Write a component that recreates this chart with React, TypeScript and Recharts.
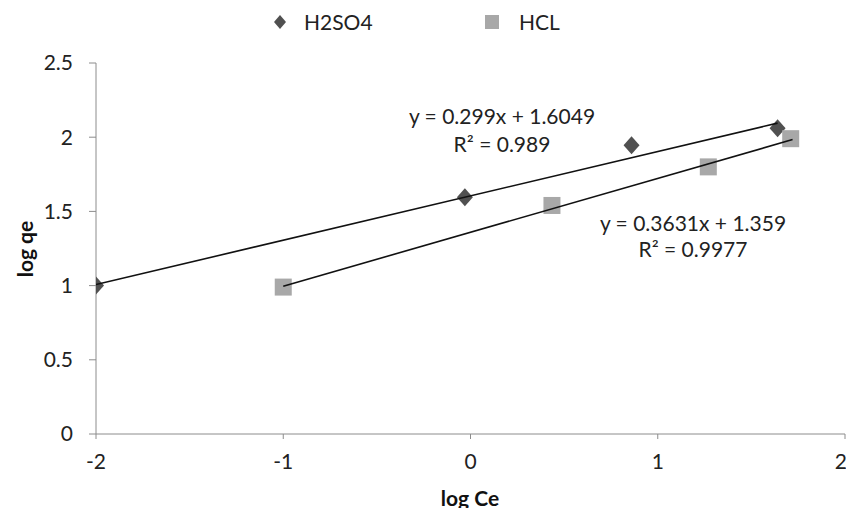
import React from 'react';
import { ScatterChart, Scatter, XAxis, YAxis, Legend } from 'recharts';

// Measured data (log Ce, log qe)
const h2so4X = [-2, -0.03, 0.86, 1.64];
const h2so4Y = [1.0, 1.595, 1.945, 2.06];
const hclX = [-1, 0.435, 1.27, 1.71];
const hclY = [0.99, 1.54, 1.8, 1.99];

// Trend line endpoints
const h2so4TrendX = [-2, 1.64];
const h2so4TrendY = [1.007, 2.095];
const hclTrendX = [-1, 1.72];
const hclTrendY = [0.996, 1.984];

const seriesNames = ['H2SO4', 'HCL'];
const xTicks = [-2, -1, 0, 1, 2];
const yTicks = [0, 0.5, 1, 1.5, 2, 2.5];
const eqH2so4 = ['y = 0.299x + 1.6049', 'R\u00b2 = 0.989'];
const eqHcl = ['y = 0.3631x + 1.359', 'R\u00b2 = 0.9977'];

const zip = (xs: number[], ys: number[]) => xs.map((x, i) => ({ x, y: ys[i] }));

const h2so4Data = zip(h2so4X, h2so4Y);
const hclData = zip(hclX, hclY);
const h2so4Trend = zip(h2so4TrendX, h2so4TrendY);
const hclTrend = zip(hclTrendX, hclTrendY);

const DIAMOND = '#505050';
const SQUARE = '#a8a8a8';
const FONT = 'Lato, "Open Sans", sans-serif';

const Diamond = (props: any) => {
  const { cx, cy } = props;
  if (cx == null || cy == null) return <g />;
  return (
    <polygon
      points={`${cx},${cy - 9} ${cx + 8},${cy} ${cx},${cy + 9} ${cx - 8},${cy}`}
      fill={DIAMOND}
    />
  );
};

const Square = (props: any) => {
  const { cx, cy } = props;
  if (cx == null || cy == null) return <g />;
  return <rect x={cx - 8.5} y={cy - 8.5} width={17} height={17} fill={SQUARE} />;
};

const NoShape = () => <g />;

const LegendContent = () => (
  <div style={{ position: 'relative', width: 846, height: 40, fontFamily: FONT, fontSize: 21, color: '#222' }}>
    <svg width={20} height={20} style={{ position: 'absolute', left: 270, top: 12 }}>
      <polygon points="10,3 16,10 10,17 4,10" fill={DIAMOND} />
    </svg>
    <span style={{ position: 'absolute', left: 304, top: 8, lineHeight: '28px' }}>{seriesNames[0]}</span>
    <svg width={20} height={20} style={{ position: 'absolute', left: 482, top: 12 }}>
      <rect x={3} y={3} width={14} height={14} fill={SQUARE} />
    </svg>
    <span style={{ position: 'absolute', left: 519, top: 8, lineHeight: '28px' }}>{seriesNames[1]}</span>
  </div>
);

export default function App() {
  return (
    <div style={{ position: 'absolute', left: 0, top: 0, width: 846, height: 508, background: '#fff', overflow: 'hidden' }}>
      <ScatterChart
        width={846}
        height={508}
        margin={{ top: 23, right: 1, left: 0, bottom: 44 }}
      >
        <Legend
          verticalAlign="top"
          align="left"
          content={() => <LegendContent />}
          wrapperStyle={{ top: 0, left: 0, width: 846, height: 40 }}
        />
        <XAxis
          type="number"
          dataKey="x"
          domain={[-2, 2]}
          ticks={xTicks}
          allowDataOverflow
          height={30}
          stroke="#8c8c8c"
          tickSize={5}
          tickMargin={15}
          tick={{ fill: '#222', fontSize: 21, fontFamily: FONT }}
        />
        <YAxis
          type="number"
          dataKey="y"
          domain={[0, 2.5]}
          ticks={yTicks}
          allowDataOverflow
          width={96}
          stroke="#8c8c8c"
          tickSize={7}
          tickMargin={16}
          tick={{ fill: '#222', fontSize: 21, fontFamily: FONT }}
        />
        <Scatter name={seriesNames[0]} data={h2so4Data} shape={Diamond} isAnimationActive={false} />
        <Scatter name={seriesNames[1]} data={hclData} shape={Square} isAnimationActive={false} />
        <Scatter
          data={h2so4Trend}
          shape={NoShape}
          line={{ stroke: '#111', strokeWidth: 1.6 }}
          legendType="none"
          isAnimationActive={false}
        />
        <Scatter
          data={hclTrend}
          shape={NoShape}
          line={{ stroke: '#111', strokeWidth: 1.6 }}
          legendType="none"
          isAnimationActive={false}
        />
      </ScatterChart>
      <svg
        width={846}
        height={508}
        style={{ position: 'absolute', left: 0, top: 0, pointerEvents: 'none' }}
        fontFamily={FONT}
      >
        <text x={502} y={115} textAnchor="middle" dominantBaseline="central" fontSize={21} fill="#222">{eqH2so4[0]}</text>
        <text x={502} y={143} textAnchor="middle" dominantBaseline="central" fontSize={21} fill="#222">{eqH2so4[1]}</text>
        <text x={693} y={222} textAnchor="middle" dominantBaseline="central" fontSize={21} fill="#222">{eqHcl[0]}</text>
        <text x={693} y={248} textAnchor="middle" dominantBaseline="central" fontSize={21} fill="#222">{eqHcl[1]}</text>
        <text x={24} y={249} textAnchor="middle" dominantBaseline="central" fontSize={21} fontWeight="bold" fill="#111" transform="rotate(-90 24 249)">log qe</text>
        <text x={470} y={497} textAnchor="middle" dominantBaseline="central" fontSize={21} fontWeight="bold" fill="#111">log Ce</text>
      </svg>
    </div>
  );
}
